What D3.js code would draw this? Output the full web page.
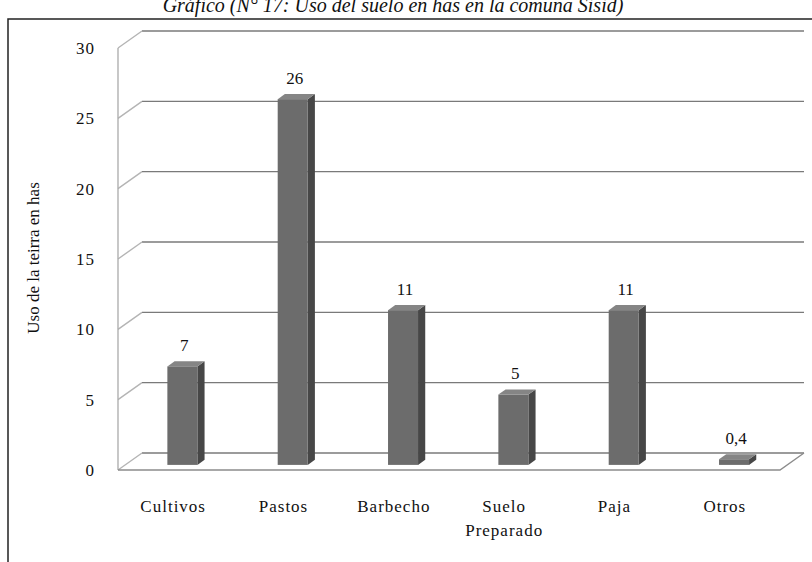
<!DOCTYPE html>
<html>
<head>
<meta charset="utf-8">
<script src="https://cdn.jsdelivr.net/npm/d3@7"></script>
<style>
  body { margin: 0; background: #fff; }
  svg { display: block; }
  text { font-family: "Liberation Serif", "DejaVu Serif", serif; fill: #111; }
</style>
</head>
<body>
<script>
// chart data
var categories = ["Cultivos", "Pastos", "Barbecho", "Suelo Preparado", "Paja", "Otros"];
var values = [7, 26, 11, 5, 11, 0.4];
var valueLabels = ["7", "26", "11", "5", "11", "0,4"];
var yTicks = [0, 5, 10, 15, 20, 25, 30];

var width = 812, height = 562;

var svg = d3.select("body").append("svg")
  .attr("width", width)
  .attr("height", height);

// 3d depth offset of the back wall
var DX = 24, DY = -17;
var f0 = 0.3, f1 = 0.6;   // bar front / back depth
var faceW = 30;

var xScale = d3.scaleBand().domain(categories).range([118, 780]);
var yScale = d3.scaleLinear().domain([0, 30]).range([470, 48]);

// title (cut off at the top in the scan)
svg.append("text")
  .attr("x", 393)
  .attr("y", 12)
  .attr("text-anchor", "middle")
  .style("font-size", "20px")
  .style("font-style", "italic")
  .text("Gráfico (N° 17: Uso del suelo en has en la comuna Sisid)");

// frame
svg.append("path")
  .attr("d", "M8,562 L8,19 L812,19")
  .attr("fill", "none")
  .attr("stroke", "#222")
  .attr("stroke-width", 1.5);

// walls and gridlines
var grid = svg.append("g");
yTicks.forEach(function(t) {
  var y = yScale(t);
  grid.append("line")
    .attr("x1", xScale.range()[0] + DX).attr("y1", y + DY)
    .attr("x2", xScale.range()[1] + DX).attr("y2", y + DY)
    .attr("stroke", "#7a7a7a").attr("stroke-width", 1.4);
  grid.append("line")
    .attr("x1", xScale.range()[0]).attr("y1", y)
    .attr("x2", xScale.range()[0] + DX).attr("y2", y + DY)
    .attr("stroke", "#b4b4b4").attr("stroke-width", 1.4);
});

// front axis line
grid.append("line")
  .attr("x1", 118).attr("y1", yScale(30))
  .attr("x2", 118).attr("y2", yScale(0))
  .attr("stroke", "#aaa").attr("stroke-width", 1.3);

// floor
grid.append("path")
  .attr("d", "M" + xScale.range()[0] + "," + yScale(0) +
             " L" + xScale.range()[1] + "," + yScale(0) +
             " L" + (xScale.range()[1] + DX) + "," + (yScale(0) + DY))
  .attr("fill", "none")
  .attr("stroke", "#8c8c8c").attr("stroke-width", 1.4);

// bars
var bars = svg.append("g");
categories.forEach(function(c, i) {
  var cx = xScale(c) + xScale.bandwidth() / 2;
  var x0 = cx + f0 * DX - faceW / 2 + 2;
  var x1 = x0 + faceW;
  var yb = yScale(0) + f0 * DY;
  var yt = yScale(values[i]) + f0 * DY;
  var sx = (f1 - f0) * DX, sy = (f1 - f0) * DY;

  // side
  bars.append("path")
    .attr("d", "M" + x1 + "," + yb + " L" + x1 + "," + yt +
               " L" + (x1 + sx) + "," + (yt + sy) + " L" + (x1 + sx) + "," + (yb + sy) + "Z")
    .attr("fill", "#474747");
  // top
  bars.append("path")
    .attr("d", "M" + x0 + "," + yt + " L" + x1 + "," + yt +
               " L" + (x1 + sx) + "," + (yt + sy) + " L" + (x0 + sx) + "," + (yt + sy) + "Z")
    .attr("fill", "#858585");
  // front
  bars.append("rect")
    .attr("x", x0).attr("y", yt)
    .attr("width", faceW).attr("height", yb - yt)
    .attr("fill", "#6c6c6c");

  // value label
  svg.append("text")
    .attr("x", (x0 + x1) / 2 + 2)
    .attr("y", yt + sy - 10)
    .attr("text-anchor", "middle")
    .style("font-size", "17px")
    .text(valueLabels[i]);
});

// y axis labels
var yAxis = d3.axisLeft(yScale).tickValues(yTicks).tickSize(0).tickPadding(23);
svg.append("g")
  .attr("transform", "translate(118,0)")
  .call(yAxis)
  .call(function(g) { g.select(".domain").remove(); })
  .selectAll("text")
  .style("font-family", "'Liberation Serif', serif")
  .style("font-size", "17px")
  .style("letter-spacing", "1px")
  .style("fill", "#111");

// x axis labels
var xAxis = d3.axisBottom(xScale).tickSize(0).tickPadding(28).tickFormat("");
var xg = svg.append("g")
  .attr("transform", "translate(0,470)")
  .call(xAxis)
  .call(function(g) { g.select(".domain").remove(); });
xg.selectAll(".tick").append("text")
  .attr("text-anchor", "middle")
  .style("font-size", "17px")
  .style("letter-spacing", "1px")
  .style("fill", "#111")
  .each(function(d) {
    var words = d.split(" ");
    var t = d3.select(this);
    words.forEach(function(w, k) {
      t.append("tspan").attr("x", 0).attr("y", 42 + k * 24).text(w);
    });
  });

// y axis title
svg.append("text")
  .attr("transform", "translate(39,258) rotate(-90)")
  .attr("text-anchor", "middle")
  .style("font-size", "17px")
  .text("Uso de la teirra en has");
</script>
</body>
</html>
